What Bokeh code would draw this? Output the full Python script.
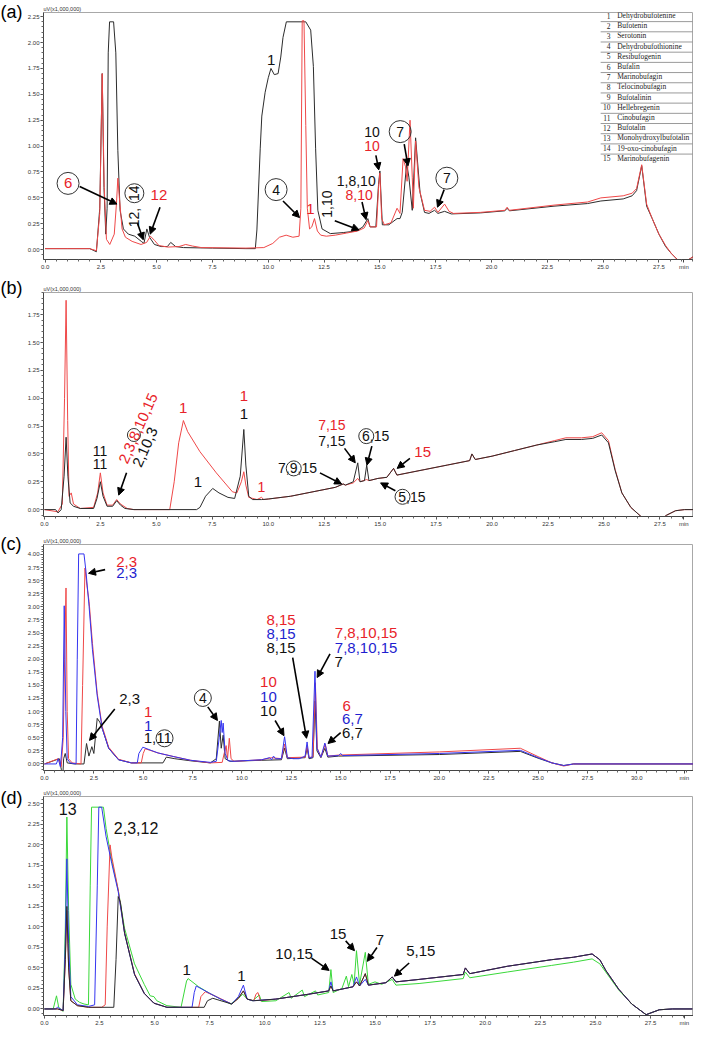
import math
from bokeh.plotting import figure
from bokeh.layouts import column, row
from bokeh.models import (Range1d, Arrow, NormalHead, SingleIntervalTicker, FixedTicker,
                          PrintfTickFormatter, ColumnDataSource)
from bokeh.core.properties import value
from bokeh.embed import file_html
from bokeh.resources import INLINE

# ---------------- data (retention time min, signal uV x 1,000,000) ----------------
A_BLACK = [(0.0,0.01),(1.0,0.01),(2.0,0.01),(2.3,-0.02),(2.45,0.4),(2.56,1.70),(2.64,0.6),(2.72,0.15),(2.78,0.4),(2.83,1.9),(2.89,2.2),(3.07,2.2),(3.17,1.9),(3.26,0.96),(3.36,0.38),(3.51,0.2),(3.73,0.15),(4.02,0.13),(4.31,0.08),(4.43,0.06),(4.56,0.20),(4.68,0.12),(4.9,0.05),(5.2,0.03),(5.48,0.03),(5.63,0.07),(5.85,0.03),(6.2,0.02),(7.5,0.015),(9.0,0.01),(9.42,0.01),(9.49,0.19),(9.64,0.98),(9.71,1.29),(9.86,1.52),(10.0,1.66),(10.12,1.75),(10.27,1.69),(10.44,1.70),(10.56,1.86),(10.66,2.05),(10.81,2.20),(11.68,2.20),(11.9,2.12),(12.02,1.77),(12.12,0.98),(12.22,0.38),(12.41,0.20),(12.78,0.155),(13.36,0.165),(13.94,0.18),(14.24,0.22),(14.46,0.30),(14.56,0.22),(14.82,0.22),(14.94,0.63),(15.0,0.76),(15.11,0.24),(15.4,0.24),(15.77,0.30),(15.9,0.30),(16.0,0.36),(16.2,0.83),(16.3,0.7),(16.45,0.38),(16.6,1.08),(16.8,0.55),(17.0,0.36),(17.2,0.35),(17.45,0.38),(17.6,0.35),(17.9,0.37),(18.2,0.345),(19.5,0.355),(20.6,0.375),(20.7,0.40),(20.8,0.375),(22.8,0.42),(24.3,0.445),(24.9,0.47),(25.9,0.49),(26.3,0.52),(26.5,0.57),(26.73,0.81),(26.95,0.42),(27.2,0.30),(27.5,0.15),(27.8,0.03),(28.05,-0.035),(28.3,-0.09),(28.5,-0.12),(28.8,-0.1),(29.1,-0.06)]
A_RED = [(0.0,0.01),(2.0,0.01),(2.3,-0.01),(2.45,0.35),(2.56,1.70),(2.65,0.6),(2.75,0.1),(2.9,0.05),(3.1,0.15),(3.2,0.45),(3.26,0.69),(3.33,0.5),(3.45,0.2),(3.6,0.12),(3.9,0.08),(4.3,0.05),(4.55,0.07),(4.72,0.13),(4.9,0.09),(5.1,0.04),(5.5,0.025),(6.0,0.03),(6.3,0.05),(6.6,0.035),(7.0,0.02),(9.0,0.015),(9.8,0.02),(10.2,0.06),(10.5,0.12),(10.8,0.14),(11.1,0.12),(11.38,0.13),(11.46,0.4),(11.52,2.21),(11.6,2.21),(11.68,1.2),(11.75,0.4),(11.85,0.2),(11.95,0.22),(12.07,0.30),(12.2,0.18),(12.35,0.14),(12.6,0.13),(13.0,0.14),(13.5,0.16),(14.0,0.18),(14.3,0.21),(14.46,0.28),(14.56,0.22),(14.85,0.22),(14.94,0.6),(15.0,0.74),(15.08,0.3),(15.2,0.24),(15.5,0.26),(15.77,0.40),(15.9,0.35),(16.04,0.88),(16.15,0.8),(16.22,0.66),(16.35,1.25),(16.45,0.7),(16.5,0.4),(16.6,1.05),(16.75,0.6),(17.0,0.38),(17.25,0.37),(17.45,0.41),(17.6,0.36),(17.9,0.44),(18.1,0.37),(18.3,0.35),(19.5,0.36),(20.6,0.38),(20.7,0.41),(20.8,0.38),(22.8,0.43),(24.3,0.46),(24.9,0.50),(25.9,0.52),(26.3,0.545),(26.5,0.59),(26.73,0.82),(26.95,0.44),(27.2,0.3),(27.5,0.15),(27.8,0.04),(28.05,-0.035),(28.3,-0.09),(28.5,-0.12),(28.8,-0.1),(29.1,-0.06)]

B_BLACK = [(0,0),(0.5,0),(0.61,-0.03),(0.75,0),(0.88,0.3),(0.97,0.65),(1.05,0.3),(1.15,0.06),(1.3,0.03),(1.6,0.01),(2.2,0.01),(2.35,0.1),(2.5,0.25),(2.62,0.12),(2.8,0.03),(3.05,0.03),(3.23,0.08),(3.4,0.04),(3.6,0.01),(4,0),(6.8,0),(6.95,0.02),(7.2,0.12),(7.52,0.19),(7.8,0.15),(8.2,0.11),(8.5,0.10),(8.75,0.3),(8.91,0.72),(9.0,0.4),(9.13,0.12),(9.3,0.09),(9.7,0.09),(10,0.095),(11,0.12),(12,0.16),(13,0.2),(13.35,0.23),(13.45,0.22),(13.8,0.25),(14.0,0.42),(14.1,0.25),(14.3,0.26),(14.4,0.40),(14.5,0.26),(14.9,0.28),(15.3,0.29),(15.6,0.37),(15.75,0.31),(17,0.36),(18,0.4),(19.0,0.44),(19.1,0.50),(19.25,0.45),(20,0.48),(21,0.53),(22,0.58),(22.8,0.61),(23.3,0.63),(24.0,0.63),(24.5,0.64),(24.9,0.67),(25.2,0.6),(25.5,0.35),(25.8,0.15),(26.2,0.02),(26.7,-0.07),(27.1,-0.11),(27.4,-0.11),(27.8,-0.05),(28.2,-0.01),(28.6,0),(29.2,0)]
B_RED = [(0,0),(0.6,-0.02),(0.8,0.05),(0.9,1.0),(0.97,1.88),(1.04,0.8),(1.1,0.12),(1.2,0.15),(1.3,0.05),(1.6,0.01),(2.2,0.02),(2.38,0.15),(2.5,0.33),(2.62,0.15),(2.8,0.04),(3.05,0.04),(3.23,0.09),(3.4,0.05),(3.7,0.01),(4,0),(5.6,0),(5.8,0.25),(6.0,0.6),(6.21,0.80),(6.4,0.70),(6.95,0.52),(7.68,0.33),(8.4,0.16),(8.6,0.15),(8.8,0.25),(8.91,0.34),(9.0,0.22),(9.13,0.11),(9.5,0.09),(9.7,0.11),(9.8,0.09),(10,0.095),(11,0.12),(12,0.16),(13,0.2),(13.35,0.23),(13.45,0.22),(13.8,0.24),(14.0,0.28),(14.1,0.25),(14.4,0.27),(14.5,0.26),(14.9,0.28),(15.3,0.29),(15.6,0.37),(15.75,0.31),(17,0.36),(18,0.4),(19.0,0.44),(19.1,0.50),(19.25,0.45),(20,0.48),(21,0.53),(22,0.58),(22.8,0.62),(23.3,0.645),(24.0,0.645),(24.5,0.655),(24.9,0.69),(25.2,0.62),(25.5,0.36),(25.8,0.15),(26.2,0.02),(26.7,-0.07),(27.1,-0.11),(27.4,-0.11),(27.8,-0.05),(28.2,-0.01),(28.6,0),(29.2,0)]

C_BLUE = [(0,0),(0.6,0),(0.7,0.1),(0.8,-0.05),(0.85,0.15),(0.92,0.5),(1.0,3.02),(1.08,1.0),(1.15,0.1),(1.3,0.02),(1.6,0.0),(1.66,2.0),(1.73,4.01),(2.0,4.01),(2.1,3.68),(2.26,3.0),(2.43,2.18),(2.67,1.3),(2.92,0.68),(3.25,0.3),(3.75,0.08),(4.4,0.02),(4.7,0.02),(4.78,0.2),(4.98,0.32),(5.4,0.26),(5.75,0.21),(6.55,0.14),(7.4,0.07),(8.4,0.03),(8.7,0.05),(8.85,0.5),(8.95,0.83),(9.0,0.6),(9.05,0.78),(9.15,0.2),(9.3,0.06),(9.6,0.05),(10,0.06),(11,0.08),(11.4,0.12),(11.5,0.08),(11.6,0.15),(11.7,0.1),(12.0,0.1),(12.16,0.52),(12.3,0.12),(12.6,0.1),(12.9,0.1),(13.2,0.15),(13.3,0.42),(13.4,0.12),(13.55,0.12),(13.7,1.77),(13.8,0.3),(14.0,0.13),(14.2,0.40),(14.35,0.15),(14.9,0.16),(15.0,0.2),(15.1,0.16),(20,0.2),(24.1,0.26),(25.0,0.12),(25.7,0.02),(26.3,-0.03),(26.8,0.0),(33,0.0)]
C_RED = [(0,0),(0.7,0.1),(0.85,-0.05),(0.95,0.5),(1.02,2.0),(1.09,3.36),(1.15,1.0),(1.22,0.1),(1.4,0.02),(1.85,0.0),(1.93,1.5),(2.05,3.74),(2.15,3.4),(2.26,3.1),(2.43,2.3),(2.67,1.35),(2.92,0.72),(3.25,0.32),(3.75,0.09),(4.4,0.02),(4.9,0.02),(5.0,0.2),(5.1,0.29),(5.75,0.21),(6.55,0.14),(7.4,0.07),(8.4,0.02),(9.0,0.03),(9.1,0.2),(9.2,0.35),(9.27,0.1),(9.36,0.49),(9.45,0.1),(9.6,0.05),(11,0.08),(11.5,0.12),(12.0,0.1),(12.16,0.38),(12.3,0.12),(13.2,0.13),(13.3,0.35),(13.4,0.12),(13.6,0.14),(13.72,1.55),(13.82,0.3),(14.0,0.13),(14.22,0.38),(14.35,0.15),(14.9,0.17),(20,0.23),(24.1,0.30),(25.0,0.14),(25.7,0.02),(26.3,-0.04),(26.8,0.0),(33,0.0)]
C_BLACK = [(0,0),(0.75,0.1),(0.85,-0.1),(0.92,-0.3),(0.97,0.1),(1.05,0.2),(1.15,0.02),(1.5,0.0),(2.0,0.0),(2.13,0.39),(2.25,0.15),(2.4,0.33),(2.5,0.2),(2.67,0.87),(2.8,0.8),(2.95,0.65),(3.25,0.3),(3.75,0.08),(4.4,0.02),(6.0,0.02),(6.17,0.13),(6.6,0.1),(7.4,0.06),(8.4,0.02),(8.7,0.1),(8.86,0.82),(8.95,0.3),(9.05,0.55),(9.15,0.1),(9.4,0.05),(11,0.07),(12.0,0.08),(12.16,0.3),(12.3,0.1),(13.2,0.12),(13.3,0.3),(13.4,0.1),(13.6,0.12),(13.7,1.2),(13.8,0.25),(14.0,0.12),(14.2,0.3),(14.35,0.13),(14.9,0.15),(20,0.18),(24.1,0.24),(25.0,0.11),(25.7,0.02),(26.3,-0.03),(26.8,0.0),(33,0.0)]

D_GREEN = [(0,0),(0.4,0),(0.55,0.16),(0.65,0.02),(0.85,-0.03),(0.95,1.0),(1.02,2.34),(1.1,1.2),(1.2,0.3),(1.4,0.12),(1.6,0.08),(1.8,0.06),(2.0,0.05),(2.08,1.5),(2.14,2.46),(2.68,2.46),(2.8,2.2),(3.06,1.8),(3.35,1.45),(3.64,0.98),(4.09,0.55),(4.53,0.3),(4.8,0.16),(4.97,0.15),(5.1,0.1),(5.56,0.04),(6.2,0.02),(6.45,0.34),(6.52,0.37),(7.0,0.27),(7.5,0.19),(8.0,0.12),(8.45,0.06),(8.8,0.13),(9.0,0.18),(9.2,0.12),(9.45,0.1),(9.75,0.17),(9.85,0.09),(10.5,0.1),(11.1,0.2),(11.2,0.13),(11.7,0.23),(11.8,0.15),(12.3,0.22),(12.4,0.17),(12.9,0.2),(13.0,0.48),(13.1,0.2),(13.5,0.25),(13.7,0.4),(13.8,0.27),(13.95,0.42),(14.05,0.3),(14.16,0.71),(14.3,0.3),(14.56,0.69),(14.7,0.3),(15.0,0.33),(15.3,0.3),(15.78,0.36),(15.95,0.29),(17,0.31),(19.0,0.37),(19.1,0.45),(19.3,0.38),(21,0.45),(23,0.53),(24,0.57),(24.85,0.61),(25.2,0.55),(25.47,0.45),(26.06,0.23),(26.65,0.06),(27.3,-0.07),(27.9,-0.01),(28.5,0),(29.4,0)]
D_BLUE = [(0,0),(0.5,0),(0.6,0.02),(0.85,-0.02),(0.95,0.8),(1.02,1.83),(1.1,0.8),(1.2,0.15),(1.5,0.05),(2.0,0.03),(2.28,0.05),(2.4,1.5),(2.47,2.46),(2.6,2.46),(2.8,2.1),(3.06,1.77),(3.35,1.43),(3.64,0.92),(4.09,0.42),(4.53,0.19),(4.97,0.07),(5.56,0.02),(6.7,0.02),(6.8,0.2),(6.89,0.28),(7.5,0.19),(8.0,0.12),(8.5,0.06),(8.8,0.15),(9.03,0.29),(9.2,0.12),(9.45,0.1),(10.5,0.12),(12,0.18),(12.9,0.22),(13.0,0.33),(13.1,0.22),(14.0,0.27),(14.16,0.39),(14.3,0.28),(14.56,0.36),(14.7,0.29),(15.5,0.32),(15.78,0.39),(15.95,0.33),(17,0.36),(19.0,0.42),(19.1,0.5),(19.3,0.43),(21,0.52),(23,0.6),(24,0.63),(24.85,0.67),(25.2,0.6),(25.47,0.47),(26.06,0.24),(26.65,0.06),(27.3,-0.07),(27.9,-0.01),(28.5,0),(29.4,0)]
D_RED = [(0,0),(0.6,0.0),(0.85,-0.02),(0.95,0.6),(1.02,1.2),(1.1,0.5),(1.2,0.1),(1.5,0.04),(2.0,0.02),(2.6,0.02),(2.76,0.05),(2.85,1.0),(2.98,2.0),(3.06,1.85),(3.35,1.45),(3.64,0.93),(4.09,0.43),(4.53,0.19),(4.97,0.07),(5.56,0.02),(7.0,0.02),(7.1,0.15),(7.3,0.21),(7.8,0.15),(8.5,0.06),(8.8,0.13),(9.03,0.22),(9.2,0.12),(9.5,0.1),(9.6,0.18),(9.69,0.2),(9.8,0.1),(10.5,0.12),(12,0.18),(12.9,0.22),(13.0,0.28),(13.1,0.22),(14.0,0.27),(14.16,0.33),(14.3,0.28),(14.56,0.43),(14.7,0.29),(15.5,0.32),(15.78,0.39),(15.95,0.33),(17,0.36),(19.0,0.42),(19.1,0.5),(19.3,0.43),(21,0.52),(23,0.6),(24,0.63),(24.85,0.67),(25.2,0.6),(25.47,0.47),(26.06,0.24),(26.65,0.06),(27.3,-0.07),(27.9,-0.01),(28.5,0),(29.4,0)]
D_BLACK = [(0,0),(0.6,0.0),(0.85,-0.02),(0.95,0.6),(1.02,1.25),(1.1,0.5),(1.2,0.1),(1.5,0.04),(2.0,0.02),(3.15,0.02),(3.25,0.6),(3.35,1.37),(3.45,1.3),(3.64,0.92),(4.09,0.42),(4.53,0.19),(4.97,0.07),(5.56,0.02),(7.25,0.02),(7.4,0.1),(7.64,0.13),(8.5,0.06),(8.8,0.13),(9.03,0.22),(9.2,0.12),(9.5,0.1),(10.5,0.12),(12,0.18),(12.9,0.22),(13.0,0.28),(13.1,0.22),(14.0,0.27),(14.16,0.33),(14.3,0.28),(14.56,0.43),(14.7,0.29),(15.5,0.32),(15.78,0.39),(15.95,0.33),(17,0.36),(19.0,0.42),(19.1,0.5),(19.3,0.43),(21,0.52),(23,0.6),(24,0.63),(24.85,0.67),(25.2,0.6),(25.47,0.47),(26.06,0.24),(26.65,0.06),(27.3,-0.07),(27.9,-0.01),(28.5,0),(29.4,0)]

COMPOUND_NO = [str(i) for i in range(1, 16)]
COMPOUND_NAMES = ["Dehydrobufotenine", "Bufotenin", "Serotonin", "Dehydrobufothionine",
                  "Resibufogenin", "Bufalin", "Marinobufagin", "Telocinobufagin",
                  "Bufotalinin", "Hellebregenin", "Cinobufagin", "Bufotalin",
                  "Monohydroxylbufotalin", "19-oxo-cinobufagin", "Marinobufagenin"]

# ---------------- styles ----------------
FONT = "Liberation Sans"
RED_T, BLUE_T, BLK_T = "#e8232a", "#1f1fcf", "#111111"
RED_L, BLUE_L, BLK_L, GRN_L = "#ef4848", "#3535f0", "#2c2c2c", "#3ad83a"
R90 = math.pi / 2
R66 = math.radians(66)

# annotations: (t, y, text, color, size, angle)
A_TEXT = [(1.03,0.64,"6",RED_T,15,0),(4.0,0.31,"12,",BLK_T,14,R90),(4.0,0.545,"14",BLK_T,14,R90),
          (5.1,0.53,"12",RED_T,15,0),(10.13,1.83,"1",BLK_T,15,0),(10.35,0.58,"4",BLK_T,14,0),
          (11.89,0.39,"1",RED_T,15,0),(12.63,0.44,"1,10",BLK_T,14,R90),(13.94,0.66,"1,8,10",BLK_T,14,0),
          (14.07,0.53,"8,10",RED_T,14,0),(14.65,1.14,"10",BLK_T,14,0),(14.65,1.0,"10",RED_T,14,0),
          (15.91,1.14,"7",BLK_T,14,0),(18.0,0.69,"7",BLK_T,14,0)]
A_CIRC = [(1.03,0.64,22),(4.0,0.545,19),(10.35,0.58,22),(15.91,1.14,22),(18.0,0.69,22)]
A_ARROWS = [(1.55,0.61,3.22,0.44),(4.14,0.256,4.4,0.095),(5.15,0.41,4.71,0.15),(10.66,0.47,11.4,0.31),
            (12.98,0.28,14.07,0.19),(14.2,0.46,14.38,0.29),(14.82,0.91,14.95,0.77),(16.09,1.02,16.26,0.81),
            (17.88,0.58,17.58,0.41)]

B_TEXT = [(2.49,0.53,"11",BLK_T,14,0),(2.49,0.41,"11",BLK_T,14,0),(4.19,0.73,"2,3,8,10,15",RED_T,15,R66),
          (4.5,0.56,"2,10,3",BLK_T,15,R66),(6.2,0.91,"1",RED_T,15,0),(6.86,0.25,"1",BLK_T,15,0),
          (8.91,1.02,"1",RED_T,15,0),(8.91,0.86,"1",BLK_T,15,0),(9.69,0.20,"1",RED_T,14,0),
          (11.31,0.37,"7,9,15",BLK_T,14,0),(12.84,0.76,"7,15",RED_T,14,0),(12.84,0.62,"7,15",BLK_T,14,0),
          (14.8,0.66,"6,15",BLK_T,14,0),(16.9,0.52,"15",RED_T,15,0),(16.42,0.115,"5,15",BLK_T,14,0)]
B_CIRC = [(4.0,0.67,13),(11.14,0.37,15),(14.38,0.66,15),(16.0,0.115,15)]
B_ARROWS = [(3.67,0.33,3.32,0.13),(12.31,0.33,13.28,0.23),(13.41,0.55,13.89,0.42),(14.63,0.57,14.41,0.40),
            (16.33,0.46,15.76,0.37),(15.68,0.17,15.02,0.24)]

C_TEXT = [(4.16,3.86,"2,3",RED_T,15,0),(4.16,3.64,"2,3",BLUE_T,15,0),(4.31,1.24,"2,3",BLK_T,15,0),
          (5.25,0.99,"1",RED_T,15,0),(5.25,0.73,"1",BLUE_T,15,0),(5.74,0.49,"1,11",BLK_T,15,0),
          (8.02,1.26,"4",BLK_T,14,0),(11.34,1.56,"10",RED_T,15,0),(11.34,1.28,"10",BLUE_T,15,0),
          (11.34,1.01,"10",BLK_T,15,0),(11.98,2.74,"8,15",RED_T,15,0),(11.98,2.48,"8,15",BLUE_T,15,0),
          (11.98,2.21,"8,15",BLK_T,15,0),(16.29,2.5,"7,8,10,15",RED_T,15,0),(16.29,2.21,"7,8,10,15",BLUE_T,15,0),
          (14.9,1.95,"7",BLK_T,15,0),(15.3,1.11,"6",RED_T,15,0),(15.59,0.86,"6,7",BLUE_T,15,0),
          (15.59,0.60,"6,7",BLK_T,15,0)]
C_CIRC = [(6.08,0.49,17),(8.02,1.26,17)]
C_ARROWS = [(3.07,3.71,2.23,3.64),(3.56,1.05,2.28,0.45),(8.27,1.09,8.76,0.83),(11.68,0.83,12.13,0.54),
            (12.57,2.03,13.27,0.49),(14.46,2.10,13.81,1.65),(15.0,0.60,14.36,0.39)]

D_TEXT = [(1.06,2.44,"13",BLK_T,16,0),(4.16,2.21,"2,3,12",BLK_T,16,0),(6.46,0.48,"1",BLK_T,15,0),
          (8.94,0.40,"1",BLK_T,15,0),(11.33,0.67,"10,15",BLK_T,15,0),(13.32,0.91,"15",BLK_T,15,0),
          (15.22,0.84,"7",BLK_T,15,0),(17.08,0.71,"5,15",BLK_T,15,0)]
D_CIRC = []
D_ARROWS = [(12.12,0.62,12.92,0.47),(13.67,0.83,14.07,0.71),(15.09,0.75,14.65,0.58),(16.55,0.56,15.88,0.40)]

TAG_W = 24
MAIN_W = 693 - TAG_W


def make_panel(h, top, bottom, xr, yr, xmax_tick, min_pos):
    p = figure(width=MAIN_W, height=h, x_range=Range1d(*xr), y_range=Range1d(*yr),
               output_backend="svg", toolbar_location=None,
               min_border_left=16, min_border_right=0, min_border_top=top, min_border_bottom=bottom)
    p.xgrid.visible = False
    p.ygrid.visible = False
    p.outline_line_color = "#a8a8a8"
    p.title.text = "uV(x1,000,000)"
    p.title.text_font = FONT
    p.title.text_font_size = "5.5px"
    p.title.text_font_style = "normal"
    p.title.text_color = "#333333"
    p.title.align = "left"
    p.title.standoff = 1
    p.title.offset = 0
    majors = [2.5 * i for i in range(int(round(xmax_tick / 2.5)) + 1)]
    minors = [0.5 * i for i in range(int(round(xr[1] / 0.5)) + 1)]
    p.xaxis.ticker = FixedTicker(ticks=majors + [min_pos], minor_ticks=minors)
    p.xaxis.major_label_overrides = {min_pos: "min"}
    p.yaxis.ticker = SingleIntervalTicker(interval=0.25, num_minor_ticks=5)
    p.xaxis.formatter = PrintfTickFormatter(format="%.1f")
    p.yaxis.formatter = PrintfTickFormatter(format="%.2f")
    for ax in list(p.xaxis) + list(p.yaxis):
        ax.axis_line_color = "#444444"
        ax.major_tick_line_color = "#444444"
        ax.minor_tick_line_color = "#666666"
        ax.major_tick_out = 3
        ax.major_tick_in = 0
        ax.minor_tick_out = 2
        ax.minor_tick_in = 0
        ax.major_label_text_font_size = "6px"
        ax.major_label_text_color = "#333333"
        ax.major_label_text_font = FONT
        ax.major_label_standoff = 1
    return p


def make_tag(h, tag, mid_px):
    t = figure(width=TAG_W, height=h, x_range=Range1d(0, TAG_W), y_range=Range1d(0, h),
               output_backend="svg", toolbar_location=None, x_axis_type=None, y_axis_type=None,
               min_border=0, outline_line_color=None, title=None)
    if "frame_align" in t.properties():
        t.frame_align = False
    t.xgrid.visible = False
    t.ygrid.visible = False
    t.text(x=[0], y=[h - mid_px], text=[tag], text_font=value(FONT), text_font_size="18px",
           text_align="left", text_baseline="middle", text_color="black")
    return t


def add_trace(p, pts, color):
    ts = [a for a, b in pts]
    ys = [b for a, b in pts]
    p.line(ts, ys, line_color=color, line_width=1)


def add_annotations(p, texts, circles, arrows):
    if texts:
        src = ColumnDataSource(dict(
            x=[t[0] for t in texts], y=[t[1] for t in texts], text=[t[2] for t in texts],
            color=[t[3] for t in texts], fsize=["%dpx" % t[4] for t in texts],
            ang=[t[5] for t in texts]))
        p.text(x="x", y="y", text="text", text_color="color", text_font_size="fsize",
               angle="ang", text_font=value(FONT), text_align="center",
               text_baseline="middle", source=src)
    if circles:
        p.scatter([c[0] for c in circles], [c[1] for c in circles], marker="circle",
                  size=[c[2] for c in circles], fill_color=None, line_color="#333333", line_width=1)
    for x0, y0, x1, y1 in arrows:
        p.add_layout(Arrow(end=NormalHead(size=7, fill_color="black", line_color="black", line_width=1),
                           x_start=x0, y_start=y0, x_end=x1, y_end=y1,
                           line_width=1.6, line_color="black"))


# ---------------- panel (a) ----------------
XA, YA = (-0.07, 29.05), (-0.095, 2.29)
HA = 276
pa = make_panel(HA, 12, 17, XA, YA, 27.5, 28.62)
add_trace(pa, A_BLACK, BLK_L)
add_trace(pa, A_RED, RED_L)
add_annotations(pa, A_TEXT, A_CIRC, A_ARROWS)
rows = [2.26 - 0.0984 * i for i in range(15)]
pa.text(x=[25.33] * 15, y=rows, text=COMPOUND_NO, text_font=value("Liberation Serif"),
        text_font_size="7.5px", text_align="right", text_baseline="middle", text_color="#222222")
pa.text(x=[25.63] * 15, y=rows, text=COMPOUND_NAMES, text_font=value("Liberation Serif"),
        text_font_size="7.5px", text_align="left", text_baseline="middle", text_color="#222222")
pa.segment(x0=[24.89] * 14, x1=[29.05] * 14, y0=[r - 0.058 for r in rows[:14]],
           y1=[r - 0.058 for r in rows[:14]], line_color="#9a9a9a", line_width=1)
ta = make_tag(HA, "(a)", 11)

# ---------------- panel (b) ----------------
XB, YB = (-0.04, 29.0), (-0.062, 1.95)
HB = 256
pb = make_panel(HB, 16, 16, XB, YB, 27.5, 28.57)
add_trace(pb, B_RED, RED_L)
add_trace(pb, B_BLACK, BLK_L)
add_annotations(pb, B_TEXT, B_CIRC, B_ARROWS)
tb = make_tag(HB, "(b)", 11)

# ---------------- panel (c) ----------------
XC, YC = (-0.05, 32.87), (-0.125, 4.19)
HC = 254
pc = make_panel(HC, 12, 16, XC, YC, 30.0, 32.4)
add_trace(pc, C_BLACK, BLK_L)
add_trace(pc, C_RED, RED_L)
add_trace(pc, C_BLUE, BLUE_L)
add_annotations(pc, C_TEXT, C_CIRC, C_ARROWS)
tc = make_tag(HC, "(c)", 11)

# ---------------- panel (d) ----------------
XD, YD = (-0.04, 29.45), (-0.08, 2.59)
HD = 242
pd = make_panel(HD, 10, 12, XD, YD, 27.5, 29.03)
add_trace(pd, D_GREEN, GRN_L)
add_trace(pd, D_RED, RED_L)
add_trace(pd, D_BLUE, BLUE_L)
add_trace(pd, D_BLACK, BLK_L)
add_annotations(pd, D_TEXT, D_CIRC, D_ARROWS)
td = make_tag(HD, "(d)", 11)

layout = column(row(ta, pa), row(tb, pb), row(tc, pc), row(td, pd), spacing=0)
open("out.html", "w").write(file_html(layout, INLINE, title="Chromatograms"))
